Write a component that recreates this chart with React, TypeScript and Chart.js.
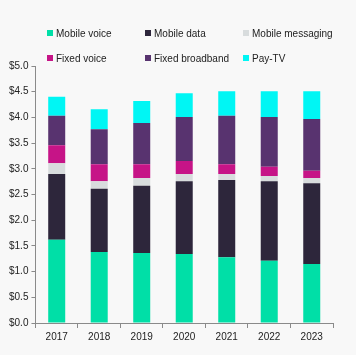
import React, { useEffect, useRef } from "react";
import { Chart, registerables } from "chart.js";

Chart.register(...registerables);

const years = ["2017", "2018", "2019", "2020", "2021", "2022", "2023"];
const mobileVoice = [1.62, 1.38, 1.36, 1.34, 1.28, 1.21, 1.15];
const mobileData = [1.28, 1.23, 1.31, 1.42, 1.5, 1.55, 1.57];
const mobileMessaging = [0.21, 0.15, 0.15, 0.14, 0.12, 0.1, 0.1];
const fixedVoice = [0.35, 0.33, 0.27, 0.25, 0.19, 0.18, 0.14];
const fixedBroadband = [0.57, 0.68, 0.8, 0.86, 0.94, 0.97, 1.01];
const payTV = [0.37, 0.39, 0.43, 0.46, 0.48, 0.5, 0.54];

const seriesNames = ["Mobile voice", "Mobile data", "Mobile messaging", "Fixed voice", "Fixed broadband", "Pay-TV"];
const seriesColors = ["#00DFA7", "#2D263B", "#D8DCDD", "#C61487", "#58336F", "#00F6F4"];
const seriesData = [mobileVoice, mobileData, mobileMessaging, fixedVoice, fixedBroadband, payTV];

const FONT = "'Liberation Sans', Arial, sans-serif";

export default function App() {
  const ref = useRef<HTMLCanvasElement>(null);
  useEffect(() => {
    const ctx = ref.current!;
    const chart = new Chart(ctx, {
      type: "bar",
      data: {
        labels: years,
        datasets: seriesNames.map((n, i) => ({
          label: n,
          data: seriesData[i],
          backgroundColor: seriesColors[i],
          borderWidth: 0,
          barPercentage: 0.4,
          categoryPercentage: 1,
        })),
      },
      options: {
        animation: false,
        responsive: false,
        maintainAspectRatio: false,
        layout: { padding: { top: 66, right: 23, bottom: 9, left: 6 } },
        plugins: { legend: { display: false }, tooltip: { enabled: false } },
        scales: {
          x: {
            stacked: true,
            grid: { display: true, drawOnChartArea: false, tickLength: 5, color: "#8a8a8a" },
            border: { color: "#8a8a8a", width: 1 },
            ticks: { color: "#222", font: { family: FONT, size: 10 }, padding: 3 },
          },
          y: {
            stacked: true,
            min: 0,
            max: 5,
            grid: { display: true, drawOnChartArea: false, tickLength: 4, color: "#8a8a8a" },
            border: { color: "#8a8a8a", width: 1 },
            ticks: {
              stepSize: 0.5,
              color: "#222",
              font: { family: FONT, size: 10 },
              padding: 3,
              callback: (v: any) => "$" + Number(v).toFixed(1),
            },
          },
        },
      },
    });
    return () => chart.destroy();
  }, []);

  const cols = [47, 145, 243];
  const rows = [33, 58];
  return (
    <div style={{ position: "fixed", left: 0, top: 0, width: 356, height: 355, background: "#F8F8F8", overflow: "hidden" }}>
      <canvas ref={ref} width={356} height={355} style={{ position: "absolute", left: 0, top: 0, width: 356, height: 355 }} />
      {seriesNames.map((n, i) => (
        <div
          key={n}
          style={{
            position: "absolute",
            left: cols[i % 3],
            top: rows[Math.floor(i / 3)] - 7,
            height: 14,
            display: "flex",
            alignItems: "center",
            fontFamily: FONT,
            fontSize: 10,
            color: "#222",
            whiteSpace: "nowrap",
          }}
        >
          <span style={{ display: "inline-block", width: 6, height: 6, background: seriesColors[i], marginRight: 3 }} />
          {n}
        </div>
      ))}
    </div>
  );
}
